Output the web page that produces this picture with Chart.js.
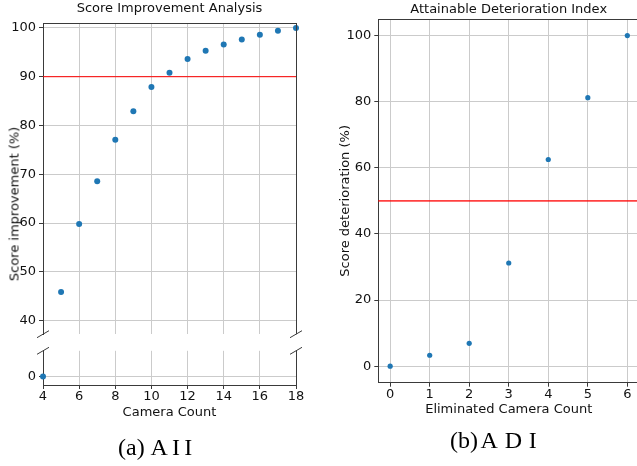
<!DOCTYPE html>
<html><head><meta charset="utf-8">
<script src="https://cdn.jsdelivr.net/npm/chart.js@4/dist/chart.umd.min.js"></script>
<style>
html,body{margin:0;padding:0;width:637px;height:466px;overflow:hidden;background:#fff;}
canvas{position:absolute;}
.t{position:absolute;font-family:"DejaVu Sans";font-size:13px;line-height:13px;color:#111;white-space:nowrap;}
.cap{position:absolute;font-family:"Liberation Serif";font-size:24px;line-height:24px;color:#000;white-space:nowrap;}
</style></head><body>
<canvas id="aiiUp" width="330" height="345" style="left:0;top:0"></canvas>
<canvas id="aiiLow" width="330" height="126" style="left:0;top:340px"></canvas>
<canvas id="adi" width="315" height="466" style="left:330px;top:0"></canvas>

<div class="t" style="left:169.5px;top:0.5px;transform:translateX(-50%)">Score Improvement Analysis</div>
<div class="t" style="left:508.7px;top:2px;transform:translateX(-50%)">Attainable Deterioration Index</div>
<div class="t" style="left:14px;top:204px;transform:translate(-50%,-50%) rotate(-90deg)">Score improvement (%)</div>
<div class="cap" style="left:118px;top:435px">(a)</div>
<div class="cap" style="left:150.5px;top:435px;letter-spacing:4.2px">AII</div>
<div class="cap" style="left:450px;top:428.3px">(b)</div>
<div class="cap" style="left:480.5px;top:428.3px;letter-spacing:6.8px">ADI</div>

<script>
// ---- data ----
const cameraCount = [4,5,6,7,8,9,10,11,12,13,14,15,16,17,18];
const scoreImprovement = [0,45.9,59.8,68.6,77.1,82.9,87.9,90.8,93.6,95.3,96.6,97.6,98.6,99.4,100];
const improvementThreshold = 90;
const eliminatedCount = [0,1,2,3,4,5,6];
const scoreDeterioration = [0,3.3,6.9,31.2,62.5,81.2,100];
const deteriorationThreshold = 50;
const aiiXTicks = [4,6,8,10,12,14,16,18];
const aiiUpperYTicks = [40,50,60,70,80,90,100];
const aiiLowerYTicks = [0];
const adiXTicks = [0,1,2,3,4,5,6];
const adiYTicks = [0,20,40,60,80,100];

Chart.defaults.font.family = "DejaVu Sans";
Chart.defaults.font.size = 13;
Chart.defaults.color = "#111";

const SPINE = "#3a3a3a", GRID = "#cbcbcb", BLUE = "#1f77b4";

const pts = (xs, ys) => xs.map((x, i) => ({x, y: ys[i]}));
const fixTicks = arr => (s => { s.ticks = arr.map(v => ({value: v})); });

// spines, threshold line & break marks
const deco = {
  id: 'deco',
  beforeDatasetsDraw(chart, args, o) {
    const {ctx, chartArea: a, scales} = chart;
    if (o.threshold !== undefined) {
      const y = scales.y.getPixelForValue(o.threshold);
      ctx.save();
      ctx.strokeStyle = o.thColor; ctx.lineWidth = o.thWidth;
      ctx.beginPath(); ctx.moveTo(a.left, y); ctx.lineTo(a.right, y); ctx.stroke();
      ctx.restore();
    }
  },
  afterDraw(chart, args, o) {
    const {ctx, chartArea: a} = chart;
    ctx.save();
    ctx.strokeStyle = SPINE; ctx.lineWidth = 1;
    ctx.beginPath();
    if (o.top) { ctx.moveTo(a.left, a.top + 0.5); ctx.lineTo(a.right, a.top + 0.5); }
    if (o.right) { ctx.moveTo(a.right + 0.5, a.top); ctx.lineTo(a.right + 0.5, a.bottom); }
    ctx.stroke();
    if (o.breakAt) {
      const y = o.breakAt === 'bottom' ? a.bottom : a.top;
      ctx.beginPath();
      for (const x of [a.left, a.right]) {
        ctx.moveTo(x - 6, y + 3.5); ctx.lineTo(x + 6, y - 3.5);
      }
      ctx.stroke();
    }
    ctx.restore();
  }
};

function aiiChart(id, yMin, yMax, yTicks, pad, showX, opts) {
  return new Chart(document.getElementById(id), {
    type: 'scatter',
    data: { datasets: [{ data: pts(cameraCount, scoreImprovement), backgroundColor: BLUE,
      borderWidth: 0, pointRadius: 3, pointHoverRadius: 3, clip: false }] },
    options: {
      responsive: false, animation: false, devicePixelRatio: 1,
      layout: { padding: pad },
      plugins: { legend: {display: false}, tooltip: {enabled: false}, deco: opts },
      scales: {
        x: {
          type: 'linear', min: 4, max: 18,
          afterBuildTicks: fixTicks(aiiXTicks),
          afterFit: s => { s.height = showX ? 36 : 0; },
          grid: { color: GRID, lineWidth: 1, drawTicks: showX, tickLength: 4, tickColor: SPINE },
          border: { display: showX, color: SPINE, width: 1 },
          ticks: { display: showX, padding: 0, maxRotation: 0 },
          title: { display: showX, text: 'Camera Count', padding: {top: 0, bottom: 1} }
        },
        y: {
          type: 'linear', min: yMin, max: yMax,
          afterBuildTicks: fixTicks(yTicks),
          afterFit: s => { s.width = 43; },
          grid: { color: GRID, lineWidth: 1, tickLength: 4, tickColor: SPINE },
          border: { color: SPINE, width: 1 },
          ticks: { padding: 3 }
        }
      }
    },
    plugins: [deco]
  });
}

aiiChart('aiiUp', 37.24, 101, aiiUpperYTicks, {top: 23, right: 34, bottom: 5, left: 0}, false,
  { top: true, right: true, breakAt: 'bottom', threshold: improvementThreshold, thColor: '#ff0000', thWidth: 1 });
aiiChart('aiiLow', -1.8, 5.4, aiiLowerYTicks, {top: 9, right: 34, bottom: 45, left: 0}, true,
  { right: true, breakAt: 'top' });

new Chart(document.getElementById('adi'), {
  type: 'scatter',
  data: { datasets: [{ data: pts(eliminatedCount, scoreDeterioration), backgroundColor: BLUE,
    borderWidth: 0, pointRadius: 2.6, pointHoverRadius: 2.6, clip: false }] },
  options: {
    responsive: false, animation: false, devicePixelRatio: 1,
    layout: { padding: {top: 19, right: 5.8, bottom: 47.3, left: 0} },
    plugins: { legend: {display: false}, tooltip: {enabled: false},
      deco: { top: true, right: true, threshold: deteriorationThreshold, thColor: 'rgba(255,0,0,0.75)', thWidth: 1.6 } },
    scales: {
      x: {
        type: 'linear', min: -0.3, max: 6.3,
        afterBuildTicks: fixTicks(adiXTicks),
        afterFit: s => { s.height = 36; },
        grid: { color: GRID, lineWidth: 1, tickLength: 4, tickColor: SPINE },
        border: { color: SPINE, width: 1 },
        ticks: { padding: 0, maxRotation: 0 },
        title: { display: true, text: 'Eliminated Camera Count', padding: {top: 0, bottom: 1} }
      },
      y: {
        type: 'linear', min: -5, max: 105,
        afterBuildTicks: fixTicks(adiYTicks),
        afterFit: s => { s.width = 48.3; },
        grid: { color: GRID, lineWidth: 1, tickLength: 4, tickColor: SPINE },
        border: { color: SPINE, width: 1 },
        ticks: { padding: 3 },
        title: { display: true, text: 'Score deterioration (%)', padding: {top: 7.5, bottom: 0} }
      }
    }
  },
  plugins: [deco]
});
</script>
</body></html>
